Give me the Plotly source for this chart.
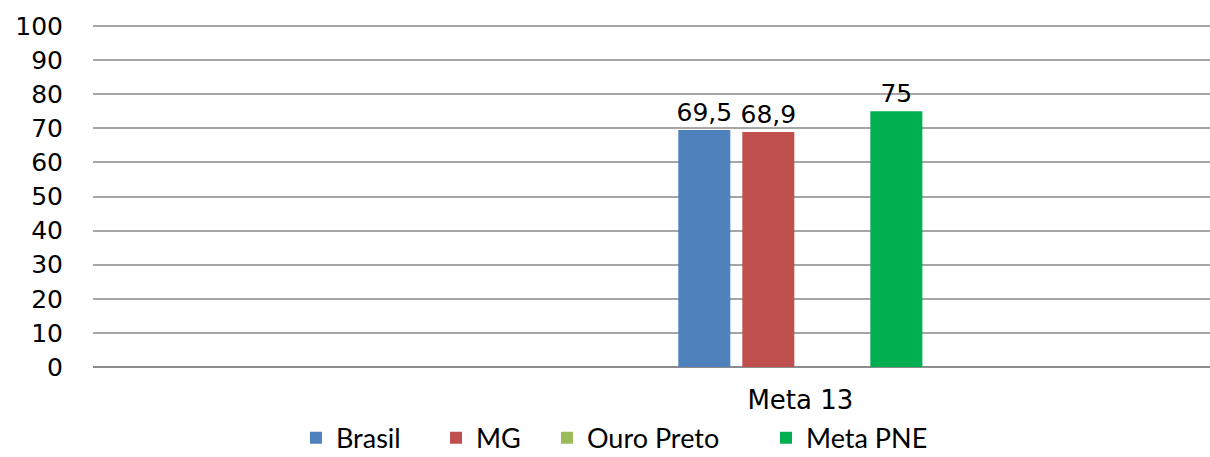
import plotly.graph_objects as go

categories = ["Meta 13"]
series_names = ["Brasil", "MG", "Ouro Preto", "Meta PNE"]
series_values = [[69.5], [68.9], [None], [75]]
series_colors = ["#4F81BD", "#C0504D", "#9BBB59", "#00B050"]
y_ticks = list(range(0, 101, 10))

legend_ids = ["legend", "legend2", "legend3", "legend4"]
legend_x = [0.1817, 0.3071, 0.4064, 0.6025]

fig = go.Figure()
for name, vals, col, lid in zip(series_names, series_values, series_colors, legend_ids):
    fig.add_trace(go.Bar(
        x=categories, y=vals, name=name, legend=lid,
        marker=dict(color=col, line=dict(width=0)),
        texttemplate="%{y}", textposition="outside", constraintext="none",
        textfont=dict(family="DejaVu Sans", size=25, color="#000000"),
        cliponaxis=False,
    ))

legend_common = dict(orientation="h", xanchor="left", y=-0.28, yanchor="bottom",
                     font=dict(family="Lato", size=27, color="#000000"),
                     itemwidth=30, bgcolor="rgba(0,0,0,0)")
layout_legends = {lid: dict(x=lx, **legend_common) for lid, lx in zip(legend_ids, legend_x)}

fig.update_layout(
    width=1210, height=457,
    margin=dict(l=93, r=0, t=25, b=90, autoexpand=False),
    paper_bgcolor="white", plot_bgcolor="white",
    barmode="group", bargap=0.2, bargroupgap=0.1875,
    separators=",.",
    showlegend=True,
    xaxis=dict(range=[-2.21, 1.28], showgrid=False, showline=False, zeroline=False,
               automargin=False, ticks="",
               tickfont=dict(family="DejaVu Sans", size=26, color="#000000"),
               ticklabelstandoff=15),
    yaxis=dict(range=[0, 100.3], tickvals=y_ticks, showgrid=True, gridcolor="#A6A6A6",
               gridwidth=1.5, zeroline=True, zerolinecolor="#8C8C8C", zerolinewidth=1.5,
               showline=False, ticks="", automargin=False,
               tickfont=dict(family="DejaVu Sans", size=25, color="#000000"),
               ticklabelstandoff=29),
    **layout_legends,
)

fig.write_html(
    "out.html",
    config={"displayModeBar": False},
    post_script="document.body.style.margin='0';document.body.style.overflow='hidden';",
)
